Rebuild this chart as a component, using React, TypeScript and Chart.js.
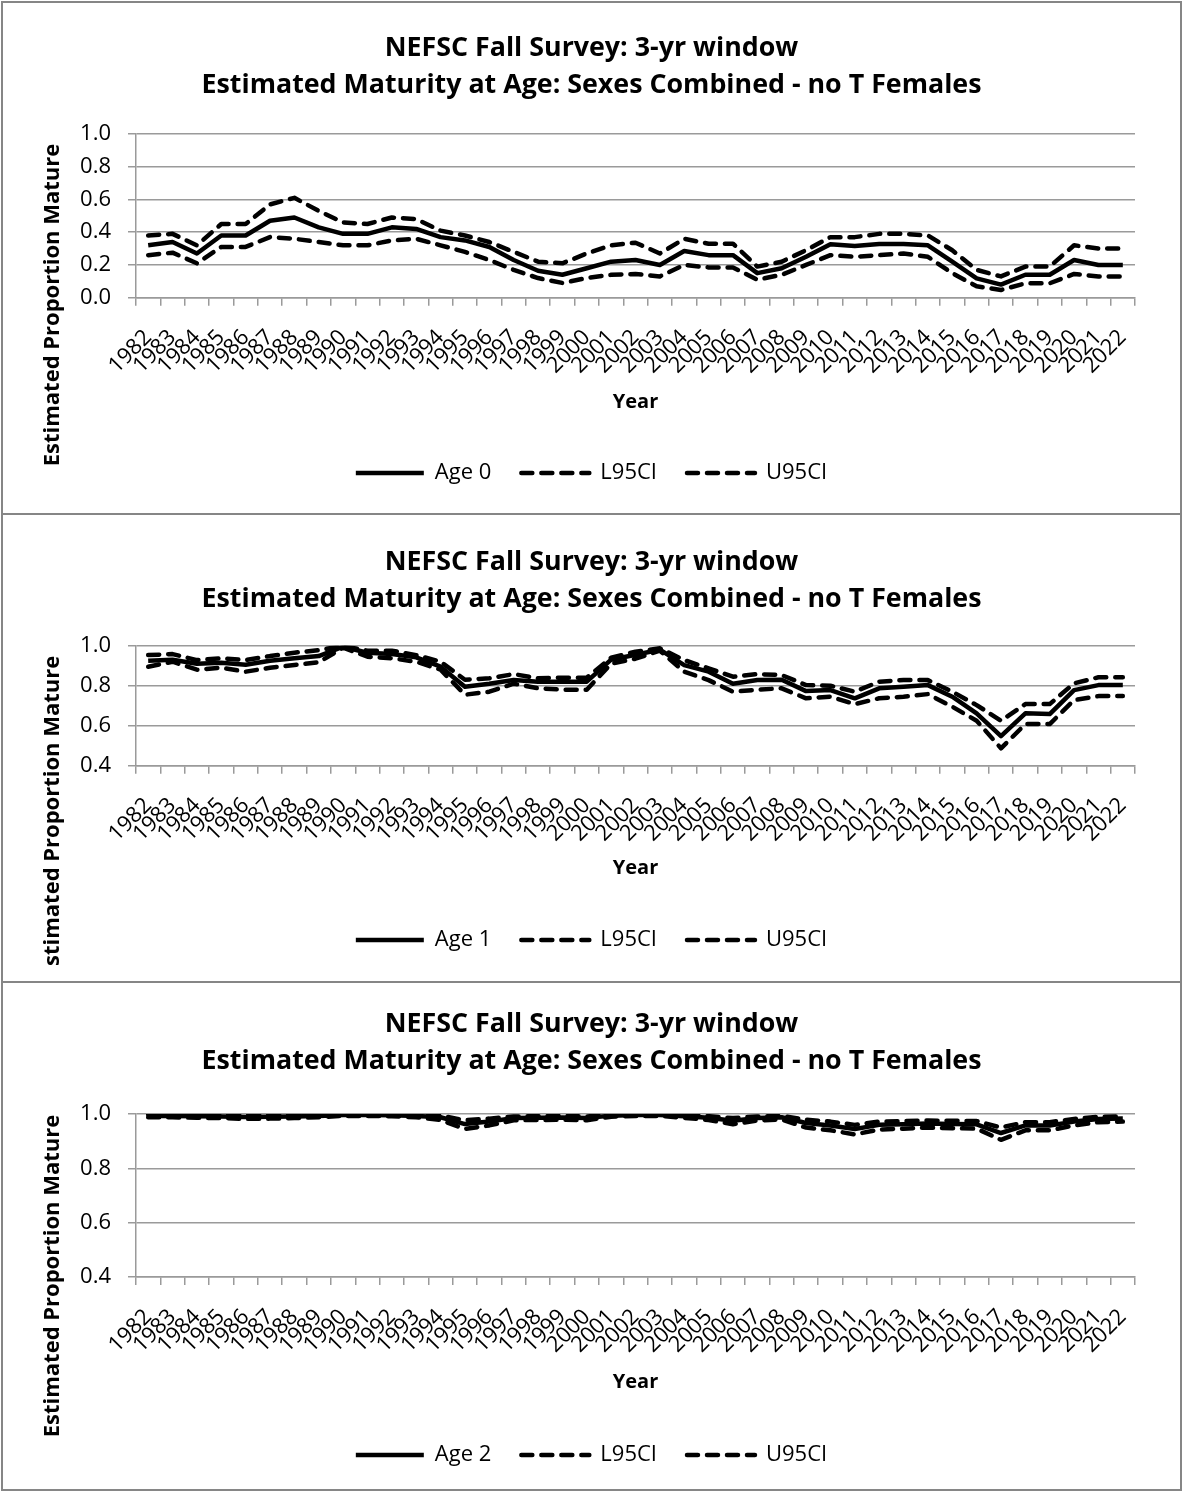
import React, { useEffect, useRef } from "react";
import { Chart, registerables } from "chart.js";
Chart.register(...registerables);

// ---------- data ----------
const years = [
  "1982", "1983", "1984", "1985", "1986", "1987", "1988", "1989", "1990", "1991",
  "1992", "1993", "1994", "1995", "1996", "1997", "1998", "1999", "2000", "2001",
  "2002", "2003", "2004", "2005", "2006", "2007", "2008", "2009", "2010", "2011",
  "2012", "2013", "2014", "2015", "2016", "2017", "2018", "2019", "2020", "2021", "2022",
];

const age0 = [
  0.32, 0.34, 0.27, 0.38, 0.38, 0.47, 0.49, 0.43, 0.39, 0.39,
  0.43, 0.42, 0.37, 0.35, 0.31, 0.23, 0.165, 0.14, 0.18, 0.22,
  0.23, 0.2, 0.285, 0.26, 0.26, 0.15, 0.18, 0.25, 0.326, 0.316,
  0.328, 0.328, 0.32, 0.22, 0.118, 0.08, 0.14, 0.14, 0.23, 0.2, 0.2,
];
const age0L = [
  0.26, 0.275, 0.21, 0.31, 0.31, 0.37, 0.36, 0.34, 0.32, 0.32,
  0.35, 0.36, 0.32, 0.28, 0.23, 0.17, 0.12, 0.09, 0.12, 0.14,
  0.145, 0.13, 0.2, 0.185, 0.185, 0.11, 0.14, 0.2, 0.26, 0.25,
  0.26, 0.27, 0.25, 0.15, 0.07, 0.047, 0.088, 0.088, 0.145, 0.13, 0.13,
];
const age0U = [
  0.38, 0.39, 0.32, 0.45, 0.45, 0.57, 0.61, 0.53, 0.46, 0.45,
  0.49, 0.48, 0.41, 0.38, 0.34, 0.28, 0.22, 0.21, 0.27, 0.32,
  0.336, 0.27, 0.36, 0.33, 0.33, 0.19, 0.22, 0.29, 0.37, 0.37,
  0.39, 0.39, 0.38, 0.29, 0.17, 0.13, 0.19, 0.19, 0.32, 0.3, 0.3,
];

const age1 = [
  0.925, 0.93, 0.91, 0.915, 0.905, 0.925, 0.937, 0.948, 0.995, 0.965,
  0.958, 0.942, 0.895, 0.795, 0.81, 0.828, 0.82, 0.82, 0.82, 0.93,
  0.955, 0.98, 0.903, 0.87, 0.81, 0.828, 0.83, 0.773, 0.778, 0.737,
  0.787, 0.795, 0.803, 0.745, 0.662, 0.548, 0.662, 0.658, 0.778, 0.803, 0.803,
];
const age1L = [
  0.895, 0.92, 0.88, 0.89, 0.87, 0.89, 0.903, 0.917, 0.99, 0.945,
  0.937, 0.92, 0.88, 0.755, 0.77, 0.81, 0.787, 0.78, 0.78, 0.91,
  0.935, 0.975, 0.87, 0.828, 0.77, 0.78, 0.787, 0.737, 0.745, 0.708,
  0.737, 0.745, 0.758, 0.695, 0.625, 0.487, 0.608, 0.608, 0.728, 0.748, 0.748,
];
const age1U = [
  0.953, 0.958, 0.928, 0.937, 0.928, 0.948, 0.965, 0.978, 0.998, 0.975,
  0.975, 0.953, 0.92, 0.83, 0.837, 0.858, 0.837, 0.84, 0.84, 0.94,
  0.97, 0.987, 0.928, 0.887, 0.845, 0.858, 0.853, 0.803, 0.8, 0.77,
  0.82, 0.828, 0.828, 0.77, 0.703, 0.625, 0.708, 0.708, 0.812, 0.842, 0.842,
];

const age2 = [
  0.993, 0.993, 0.992, 0.991, 0.989, 0.99, 0.991, 0.993, 0.996, 0.996,
  0.995, 0.993, 0.988, 0.963, 0.972, 0.985, 0.986, 0.987, 0.985, 0.994,
  0.996, 0.996, 0.992, 0.986, 0.975, 0.985, 0.988, 0.967, 0.958, 0.945,
  0.96, 0.962, 0.965, 0.963, 0.962, 0.93, 0.958, 0.958, 0.972, 0.982, 0.983,
];
const age2L = [
  0.988, 0.988, 0.986, 0.985, 0.982, 0.983, 0.985, 0.988, 0.993, 0.993,
  0.992, 0.988, 0.978, 0.945, 0.958, 0.977, 0.978, 0.979, 0.977, 0.99,
  0.993, 0.993, 0.986, 0.978, 0.962, 0.976, 0.98, 0.95, 0.94, 0.925,
  0.943, 0.946, 0.95, 0.948, 0.946, 0.905, 0.94, 0.94, 0.958, 0.97, 0.972,
];
const age2U = [
  0.997, 0.997, 0.996, 0.996, 0.995, 0.995, 0.996, 0.997, 0.998, 0.998,
  0.998, 0.997, 0.994, 0.977, 0.983, 0.991, 0.992, 0.993, 0.991, 0.997,
  0.998, 0.998, 0.996, 0.992, 0.985, 0.991, 0.993, 0.979, 0.972, 0.96,
  0.972, 0.974, 0.976, 0.975, 0.974, 0.95, 0.97, 0.97, 0.982, 0.99, 0.991,
];

const yTicksAge0 = [0, 0.2, 0.4, 0.6, 0.8, 1.0];
const yTicksAge1 = [0.4, 0.6, 0.8, 1.0];
const yTicksAge2 = [0.4, 0.6, 0.8, 1.0];

const titleLines = [
  "NEFSC Fall Survey: 3-yr window",
  "Estimated Maturity at Age: Sexes Combined - no T Females",
];
const yAxisTitle = "Estimated Proportion Mature";
const xAxisTitle = "Year";

// ---------- styling ----------
const FONT = "'Open Sans'";
const GRID = "#9a9a9a";
const CANVAS_W = 1177;

Chart.defaults.font.family = FONT;
Chart.defaults.color = "#000";

const yTitlePlugin = {
  id: "yTitle",
  afterDraw(chart: any, _args: any, opts: any) {
    const ctx = chart.ctx;
    ctx.save();
    if (opts.clip) {
      ctx.beginPath();
      ctx.rect(0, 0, chart.width, opts.clip);
      ctx.clip();
    }
    ctx.translate(opts.x, opts.y);
    ctx.rotate(-Math.PI / 2);
    ctx.font = `bold ${opts.size}px ${FONT}`;
    ctx.fillStyle = "#000";
    ctx.textAlign = "center";
    ctx.textBaseline = "middle";
    ctx.fillText(opts.text, 0, 0);
    ctx.restore();
  },
};

type Spec = {
  height: number;
  label: string;
  values: number[];
  lower: number[];
  upper: number[];
  yMin: number;
  yMax: number;
  yTicks: number[];
  titlePadTop: number;
  titlePadBottom: number;
  xAxisHeight: number;
  yearPadBottom: number;
  layoutPadBottom: number;
  yTitleY: number;
  yTitleClip?: number;
};

function Panel({ spec }: { spec: Spec }) {
  const ref = useRef<HTMLCanvasElement | null>(null);
  useEffect(() => {
    if (!ref.current) return;
    const dash = [11, 9];
    const base = {
      borderColor: "#000",
      backgroundColor: "#000",
      borderWidth: 4.5,
      pointRadius: 0,
      pointHoverRadius: 0,
      tension: 0,
      fill: false,
      borderJoinStyle: "round" as const,
    };
    const chart = new Chart(ref.current, {
      type: "line",
      data: {
        labels: years,
        datasets: [
          { ...base, label: spec.label, data: spec.values },
          { ...base, label: "L95CI", data: spec.lower, borderDash: dash, borderCapStyle: "round" as const },
          { ...base, label: "U95CI", data: spec.upper, borderDash: dash, borderCapStyle: "round" as const },
        ],
      },
      options: {
        animation: false,
        responsive: false,
        devicePixelRatio: 1,
        layout: { padding: { top: 0, left: 0, right: 0, bottom: spec.layoutPadBottom } },
        plugins: {
          tooltip: { enabled: false },
          title: {
            display: true,
            text: titleLines,
            color: "#000",
            font: { family: FONT, size: 26.8, weight: "bold", lineHeight: 37 / 26.8 },
            padding: { top: spec.titlePadTop, bottom: spec.titlePadBottom },
          },
          legend: {
            position: "bottom",
            labels: {
              usePointStyle: true,
              pointStyleWidth: 68,
              padding: 30,
              color: "#000",
              font: { family: FONT, size: 22 },
              generateLabels: (c: any) =>
                c.data.datasets.map((ds: any, i: number) => ({
                  text: ds.label,
                  fillStyle: "rgba(0,0,0,0)",
                  strokeStyle: "#000",
                  lineWidth: 4.5,
                  lineDash: ds.borderDash || [],
                  lineCap: ds.borderDash ? "round" : "butt",
                  pointStyle: "line",
                  hidden: false,
                  datasetIndex: i,
                })),
            },
          },
          yTitle: { text: yAxisTitle, x: 50, y: spec.yTitleY, size: 22, clip: spec.yTitleClip },
        } as any,
        scales: {
          x: {
            type: "category",
            offset: true,
            grid: {
              display: true,
              drawOnChartArea: false,
              drawTicks: true,
              tickLength: 8,
              offset: true,
              color: GRID,
              lineWidth: 1.5,
            },
            border: { display: true, color: GRID, width: 1.5 },
            ticks: {
              autoSkip: false,
              maxRotation: 45,
              minRotation: 45,
              padding: 19,
              color: "#000",
              font: { family: FONT, size: 22 },
            },
            title: {
              display: true,
              text: xAxisTitle,
              color: "#000",
              font: { family: FONT, size: 20, weight: "bold" },
              padding: { top: 0, bottom: spec.yearPadBottom },
            },
            afterFit: (s: any) => {
              s.height = spec.xAxisHeight;
            },
          },
          y: {
            type: "linear",
            min: spec.yMin,
            max: spec.yMax,
            afterBuildTicks: (s: any) => {
              s.ticks = spec.yTicks.map((v) => ({ value: v }));
            },
            grid: { color: GRID, lineWidth: 1.5, drawTicks: true, tickLength: 8 },
            border: { display: true, color: GRID, width: 1.5 },
            ticks: {
              padding: 17,
              color: "#000",
              font: { family: FONT, size: 22 },
              callback: (v: any) => Number(v).toFixed(1),
            },
            afterFit: (s: any) => {
              s.width = 133;
            },
          },
          yR: {
            type: "linear",
            position: "right",
            display: true,
            grid: { display: false },
            border: { display: false },
            ticks: { display: false },
            afterFit: (s: any) => {
              s.width = 45;
            },
          },
        } as any,
      },
      plugins: [yTitlePlugin],
    } as any);
    return () => chart.destroy();
  }, [spec]);
  return (
    <canvas
      ref={ref}
      width={CANVAS_W}
      height={spec.height}
      style={{ display: "block", width: CANVAS_W, height: spec.height }}
    />
  );
}

const specs: Spec[] = [
  {
    height: 510,
    label: "Age 0",
    values: age0,
    lower: age0L,
    upper: age0U,
    yMin: 0,
    yMax: 1,
    yTicks: yTicksAge0,
    titlePadTop: 26.5,
    titlePadBottom: 30.5,
    xAxisHeight: 134.3,
    yearPadBottom: 18,
    layoutPadBottom: 19,
    yTitleY: 302,
  },
  {
    height: 466,
    label: "Age 1",
    values: age1,
    lower: age1L,
    upper: age1U,
    yMin: 0.4,
    yMax: 1,
    yTicks: yTicksAge1,
    titlePadTop: 28.5,
    titlePadBottom: 28.2,
    xAxisHeight: 133.3,
    yearPadBottom: 19,
    layoutPadBottom: 20,
    yTitleY: 302,
    yTitleClip: 451,
  },
  {
    height: 506,
    label: "Age 2",
    values: age2,
    lower: age2L,
    upper: age2U,
    yMin: 0.4,
    yMax: 1,
    yTicks: yTicksAge2,
    titlePadTop: 22.5,
    titlePadBottom: 34.5,
    xAxisHeight: 137,
    yearPadBottom: 20,
    layoutPadBottom: 13,
    yTitleY: 293,
  },
];

export default function App() {
  useEffect(() => {
    document.body.style.margin = "0";
    document.body.style.background = "#fff";
  }, []);
  const border = "2px solid #868686";
  return (
    <div style={{ position: "relative", width: 1183, height: 1492, background: "#fff" }}>
      {specs.map((s, i) => (
        <div
          key={i}
          style={{
            position: "absolute",
            left: 1,
            top: i === 0 ? 1 : i === 1 ? 515 : 983,
            borderLeft: border,
            borderRight: border,
            borderBottom: border,
            borderTop: i === 0 ? border : "none",
            width: CANVAS_W,
            height: s.height,
          }}
        >
          <Panel spec={s} />
        </div>
      ))}
    </div>
  );
}
